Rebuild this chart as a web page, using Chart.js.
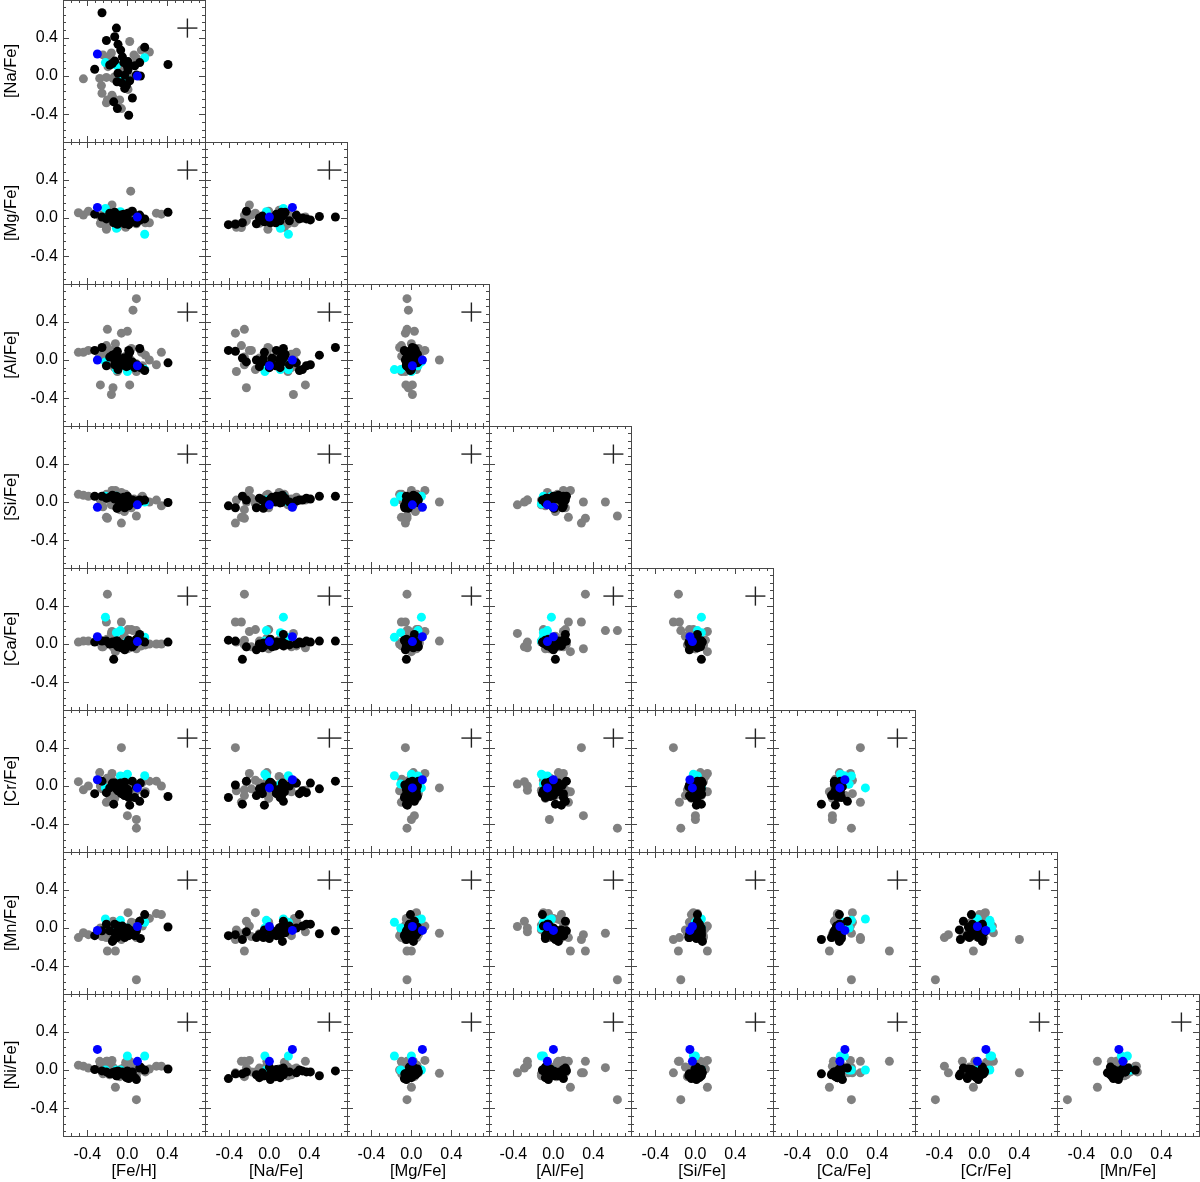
<!DOCTYPE html>
<html>
<head>
<meta charset="utf-8">
<script src="https://cdn.jsdelivr.net/npm/chart.js@4.4.1/dist/chart.umd.min.js"></script>
<style>
html,body{margin:0;padding:0;background:#fff;}
#wrap{position:relative;width:1200px;height:1182px;overflow:hidden;background:#fff;}
#wrap canvas{position:absolute;}
</style>
</head>
<body>
<div id="wrap"></div>
<script>
// ---------------- DATA ----------------
// element order of every star row
const elementLabels = ['[Fe/H]','[Na/Fe]','[Mg/Fe]','[Al/Fe]','[Si/Fe]','[Ca/Fe]','[Cr/Fe]','[Mn/Fe]','[Ni/Fe]'];
const tickValues = [-0.4, 0.0, 0.4];
// typical error bar (half length) when the element is on the x / y axis
const errX = [0.10, 0.12, 0.10, 0.10, 0.10, 0.10, 0.10, 0.10];
const errY = [null, 0.10, 0.10, 0.10, 0.10, 0.10, 0.10, 0.10, 0.10];
const errCenter = [0.6, 0.5];

//            Fe/H    Na/Fe  Mg/Fe  Al/Fe  Si/Fe  Ca/Fe  Cr/Fe  Mn/Fe  Ni/Fe
const greyStars = [
  [ 0.09,  null, -0.044, 0.64, -0.146, 0.14, -0.44, -0.54, -0.31],
  [ 0.056, null, -0.03,  0.52,  0.00,  0.14,  null, -0.055, 0.024],
  [-0.20, -0.25, -0.044, 0.32, -0.17,  0.52,  null, -0.24,  0.09],
  [-0.06, -0.34, -0.06,  0.28, -0.22,  0.23,  0.40, -0.12, -0.03],
  [-0.12,  null,  0.00,  0.17,  0.12, -0.08, -0.06, -0.24, -0.18],
  [ 0.033, null,  0.28,  0.00,  0.00,  0.03, -0.02, -0.055,-0.035],
  [-0.21, -0.28, -0.10,  0.15, -0.16,  0.23, -0.17, -0.10,  0.09],
  [ 0.00,  null,  0.03,  0.30,  0.00, -0.05, -0.31, -0.07, -0.03],
  [ 0.09,  null,  0.00, -0.04,  0.00, -0.05, -0.35, -0.10,  0.04],
  [-0.16,  0.24,  0.01, -0.36, -0.03,  0.11,  0.02,  0.015,-0.03],
  [-0.144,-0.23, -0.03, -0.29,  0.00, -0.03,  0.045, 0.07,  0.02],
  [ 0.023, 0.36,  0.01, -0.26,  0.02, -0.04, -0.045,-0.04,  0.09],
  [-0.27,  null, -0.055,-0.26,  0.02,  0.02,  0.00,  0.00,  0.05],
  [-0.49,  null,  0.055, 0.08,  0.08,  0.02,  0.045,-0.10,  0.05],
  [-0.44, -0.03,  0.03,  0.08,  0.07,  0.03, -0.04, -0.05,  0.04],
  [-0.39,  null,  0.07,  0.10,  0.06,  0.03,  0.00, -0.07,  0.02],
  [ 0.22,  0.25, -0.05,  0.00,  0.00,  0.00,  0.05,  0.10,  0.01],
  [ 0.29,  null,  0.05, -0.05,  0.02,  0.00,  0.05,  0.15,  0.04],
  [ 0.34,  null,  0.04,  0.08, -0.04,  0.00,  0.00,  0.14,  0.04],
  [-0.277,-0.025, 0.02,  0.05,  0.05,  0.02,  0.14, -0.05,  0.09],
  [-0.26, -0.10, -0.055, 0.02,  0.03,  0.03,  0.03, -0.06,  0.02],
  [-0.254,-0.18,  0.03,  0.10,  0.04, -0.03, -0.03, -0.09, -0.02],
  [-0.177,-0.25, -0.02, -0.05,  0.06,  0.04, -0.10, -0.05, -0.05],
  [-0.154,-0.20,  0.135, 0.10,  0.12,  0.13,  0.13,  0.02,  0.10],
  [-0.10, -0.33, -0.097,-0.12,  0.02,  0.02, -0.05, -0.02, -0.04],
  [-0.21, -0.015,-0.118, 0.13,  0.08,  0.00, -0.05, -0.08,  0.00],
  [-0.244, 0.22,  0.01,  0.06, -0.05, -0.03,  0.00, -0.08, -0.04],
  [-0.204, 0.185, 0.05, -0.03,  0.03,  0.05,  0.08,  0.00,  0.03],
  [ 0.066, 0.22, -0.04, -0.08,  0.03,  0.00, -0.06,  0.05, -0.05],
  [ 0.14,  0.27,  0.00,  0.08,  0.05, -0.02,  0.03,  0.08,  0.02],
  [ 0.09,  0.185,-0.06, -0.12, -0.03,  0.03, -0.05,  0.03, -0.06],
  [-0.194, 0.097, 0.08,  0.06,  0.06,  0.01,  0.01, -0.04,  0.00],
  [-0.127,-0.007, 0.05, -0.08, -0.04, -0.05, -0.13, -0.07, -0.04],
  [-0.144,-0.025,-0.02,  0.08,  0.02,  0.06,  0.05, -0.02,  0.03],
  [ 0.006,-0.14,  0.05, -0.10, -0.02,  0.15,  0.06,  0.16, -0.02],
  [-0.017, 0.15, -0.097, 0.04,  0.08, -0.02,  0.07, -0.03,  0.08],
  [ 0.04, -0.007, 0.07,  0.12, -0.06,  0.15, -0.08,  0.06, -0.03],
  [-0.06,  0.097, 0.00, -0.06,  0.10,  0.04,  0.10,  0.00,  0.01],
  [-0.077,-0.25,  0.03,  0.03, -0.08, -0.01, -0.04, -0.06, -0.07],
  [ 0.15,  null, -0.02, -0.06,  0.06,  0.04,  0.04,  0.02,  0.00],
  [-0.03,  null,  0.04,  0.02, -0.10,  0.08, -0.10, -0.02,  0.03],
  [ 0.18,  null, -0.05,  0.05,  0.01, -0.01, -0.06,  0.09, -0.02]
];

const blackStars = [
  [-0.254, 0.66,  0.01,  0.13,  0.06,  0.03,  0.05, -0.03, -0.01],
  [-0.11,  0.50,  0.015, 0.05,  0.06,  0.03, -0.03, -0.06, -0.06],
  [-0.127, 0.41, -0.02, -0.05,  0.03,  0.02,  0.03,  0.04, -0.02],
  [-0.21,  0.37, -0.01, -0.06,  0.04,  0.03, -0.07,  0.04, -0.02],
  [-0.094, 0.33,  0.00, -0.10,  0.02,  0.01, -0.05,  0.02, -0.01],
  [-0.067, 0.27,  0.03, -0.03,  0.01,  0.00,  0.03,  0.00, -0.03],
  [ 0.173, 0.30, -0.01, -0.11,  0.02,  0.02, -0.08,  0.14,  0.00],
  [-0.327, 0.07,  0.04,  0.10,  0.06,  0.02, -0.08, -0.08,  0.005],
  [-0.177, 0.115, 0.05,  0.03,  0.05,  0.00, -0.02, -0.03, -0.04],
  [-0.127, 0.157, 0.06,  0.06,  0.04,  0.00,  0.00, -0.05, -0.02],
  [-0.037, 0.14,  0.04,  0.02,  0.05, -0.02,  0.02, -0.02, -0.05],
  [ 0.006, 0.15,  0.05,  0.04,  0.03,  0.00, -0.06, -0.04, -0.03],
  [ 0.073, 0.107,-0.03, -0.08, -0.01,  0.00, -0.12, -0.08, -0.08],
  [ 0.123, 0.14,  0.03,  0.12,  0.02,  0.10, -0.16,  0.07,  0.02],
  [ 0.406, 0.12,  0.06, -0.03, -0.005, 0.02, -0.11,  0.01,  0.01],
  [ 0.006, 0.063,-0.05, -0.06,  0.00, -0.02, -0.04, -0.06, -0.07],
  [-0.094, 0.028, 0.00,  0.02,  0.05, -0.03,  0.02, -0.03, -0.02],
  [-0.027, 0.01, -0.02, -0.04,  0.03, -0.01,  0.04, -0.05, -0.04],
  [-0.104,-0.06, -0.03,  0.01, -0.066, 0.01, -0.01, -0.10, -0.06],
  [-0.06, -0.07,  0.02, -0.02,  0.02, -0.04, -0.08, -0.06, -0.03],
  [ 0.023,-0.05, -0.04,  0.08,  0.01, -0.02, -0.20, -0.02, -0.06],
  [-0.01, -0.10,  0.00, -0.07,  0.04,  0.00, -0.03, -0.07, -0.08],
  [-0.027,-0.13, -0.06,  0.00, -0.06, -0.06, -0.10, -0.10, -0.05],
  [ 0.05, -0.23,  0.07, -0.02,  0.02, -0.03,  0.05, -0.04, -0.02],
  [-0.137,-0.27, -0.05,  0.02,  0.06, -0.16, -0.19, -0.12, -0.04],
  [-0.10, -0.34, -0.066, 0.09, -0.06,  0.03,  0.01, -0.07, -0.04],
  [ 0.013,-0.41, -0.07,  0.10, -0.04,  0.04, -0.12, -0.08, -0.09],
  [ 0.09,  0.01, -0.05, -0.05,  0.01,  0.05, -0.01, -0.03, -0.10],
  [-0.15,  0.13,  0.02,  0.05,  0.07,  0.02,  0.03, -0.14, -0.03],
  [ 0.00,  0.10,  0.01,  0.00,  0.06,  0.01, -0.09,  0.00, -0.01],
  [ 0.13,  0.00, -0.02, -0.08,  0.01,  0.04,  0.03, -0.11,  0.03],
  [-0.05,  0.20, -0.03, -0.05,  0.00, -0.01,  0.00,  0.02, -0.02]
];

const cyanStars = [
  [-0.22,  0.14,  0.10, -0.02,  0.06,  0.28, -0.02,  0.094, 0.00],
  [-0.11,  0.11, -0.107,-0.10,  0.06,  0.118, 0.02,  0.00,  0.00],
  [-0.07, -0.03,  0.066,-0.06,  0.02,  0.14,  0.104, 0.08,  0.00],
  [ 0.00, -0.045, 0.00, -0.12, -0.02,  0.03,  0.122, 0.00,  0.146],
  [ 0.173, 0.19, -0.17, -0.10,  0.00,  0.07,  0.107, 0.06,  0.146]
];

const blueStars = [
  [-0.30,  0.23,  0.11,  0.00, -0.055, 0.075, 0.065,-0.025, 0.215],
  [ 0.10,  0.00,  0.01, -0.06, -0.03,  0.025,-0.02,  0.015, 0.09]
];

// ---------------- LAYOUT ----------------
const PANEL = 142, AXIS_W = 63, AXIS_H = 46;
const XMIN = -0.644, XMAX = 0.776, YMIN = -0.689, YMAX = 0.793;
const FONT = "'Liberation Sans', Arial, Helvetica, sans-serif";
const FRAME = '#484848';

const framePlugin = {
  id: 'frame',
  afterDatasetsDraw(chart) {
    const {ctx, chartArea: a, scales: {x, y}} = chart;
    ctx.save();
    ctx.strokeStyle = FRAME;
    ctx.lineWidth = 1;
    ctx.strokeRect(a.left + 0.5, a.top + 0.5, a.right - a.left, a.bottom - a.top);
    ctx.beginPath();
    for (let k = -10; k <= 10; k++) {
      const v = k * 0.08;
      const len = (k % 5 === 0) ? 6 : 3;
      if (v > XMIN && v < XMAX) {
        const px = Math.round(x.getPixelForValue(v)) + 0.5;
        ctx.moveTo(px, a.bottom); ctx.lineTo(px, a.bottom - len);
        ctx.moveTo(px, a.top); ctx.lineTo(px, a.top + len);
      }
      if (v > YMIN && v < YMAX) {
        const py = Math.round(y.getPixelForValue(v)) + 0.5;
        ctx.moveTo(a.left, py); ctx.lineTo(a.left + len, py);
        ctx.moveTo(a.right, py); ctx.lineTo(a.right - len, py);
      }
    }
    ctx.stroke();
    ctx.restore();
  }
};

function pts(stars, xi, yi) {
  return stars.filter(s => s[xi] != null && s[yi] != null).map(s => ({x: s[xi], y: s[yi]}));
}

function noPad(s) { s.paddingTop = 0; s.paddingBottom = 0; s.paddingLeft = 0; s.paddingRight = 0; }

function makePanel(r, c) {
  const xi = c, yi = r + 1;
  const hasY = c === 0, hasX = r === 7;
  const w = PANEL + 1 + (hasY ? AXIS_W : 0);
  const h = hasX ? PANEL + AXIS_H : PANEL + 1;
  const cv = document.createElement('canvas');
  cv.width = w; cv.height = h;
  cv.style.width = w + 'px'; cv.style.height = h + 'px';
  cv.style.left = (hasY ? 0 : AXIS_W + c * PANEL) + 'px';
  cv.style.top = (r * PANEL) + 'px';
  document.getElementById('wrap').appendChild(cv);

  const [cx, cy] = errCenter;
  const ex = errX[xi], ey = errY[yi];
  const dot = (data, color) => ({data, backgroundColor: color, borderWidth: 0, pointRadius: 4.5, pointHoverRadius: 4.5});
  const line = (data) => ({data, showLine: true, borderColor: '#222', borderWidth: 1.4, pointRadius: 0, fill: false});

  const xScale = {
    type: 'linear', min: XMIN, max: XMAX, display: hasX,
    afterBuildTicks: s => { s.ticks = tickValues.map(v => ({value: v})); },
    grid: {display: false, drawTicks: false},
    border: {display: false},
    ticks: {color: '#000', font: {family: FONT, size: 16}, padding: 9, autoSkip: false, maxRotation: 0,
            callback: v => Number(v).toFixed(1)},
    title: {display: true, text: elementLabels[xi], color: '#000', font: {family: FONT, size: 16.5},
            padding: {top: 0, bottom: 1}}
  };
  if (hasX) xScale.afterFit = s => { s.height = AXIS_H; noPad(s); };
  const yScale = {
    type: 'linear', min: YMIN, max: YMAX, display: hasY,
    afterBuildTicks: s => { s.ticks = tickValues.map(v => ({value: v})); },
    grid: {display: false, drawTicks: false},
    border: {display: false},
    ticks: {color: '#000', font: {family: FONT, size: 16}, padding: 5, autoSkip: false,
            callback: v => Number(v).toFixed(1)},
    title: {display: true, text: elementLabels[yi], color: '#000', font: {family: FONT, size: 16.5},
            padding: {top: 2, bottom: 0}}
  };
  if (hasY) yScale.afterFit = s => { s.width = AXIS_W; noPad(s); };

  new Chart(cv, {
    type: 'scatter',
    data: {
      datasets: [
        line([{x: cx - ex, y: cy}, {x: cx + ex, y: cy}]),
        line([{x: cx, y: cy - ey}, {x: cx, y: cy + ey}]),
        dot(pts(blueStars, xi, yi), '#0000ff'),
        dot(pts(blackStars, xi, yi), '#000000'),
        dot(pts(cyanStars, xi, yi), '#00ffff'),
        dot(pts(greyStars, xi, yi), '#808080')
      ]
    },
    options: {
      responsive: false,
      animation: false,
      devicePixelRatio: 1,
      events: [],
      layout: {autoPadding: false, padding: {left: 0, top: 0, right: 1, bottom: hasX ? 0 : 1}},
      plugins: {legend: {display: false}, tooltip: {enabled: false}},
      scales: {x: xScale, y: yScale}
    },
    plugins: [framePlugin]
  });
}

for (let r = 0; r < 8; r++) {
  for (let c = 0; c <= r; c++) makePanel(r, c);
}
</script>
</body>
</html>
